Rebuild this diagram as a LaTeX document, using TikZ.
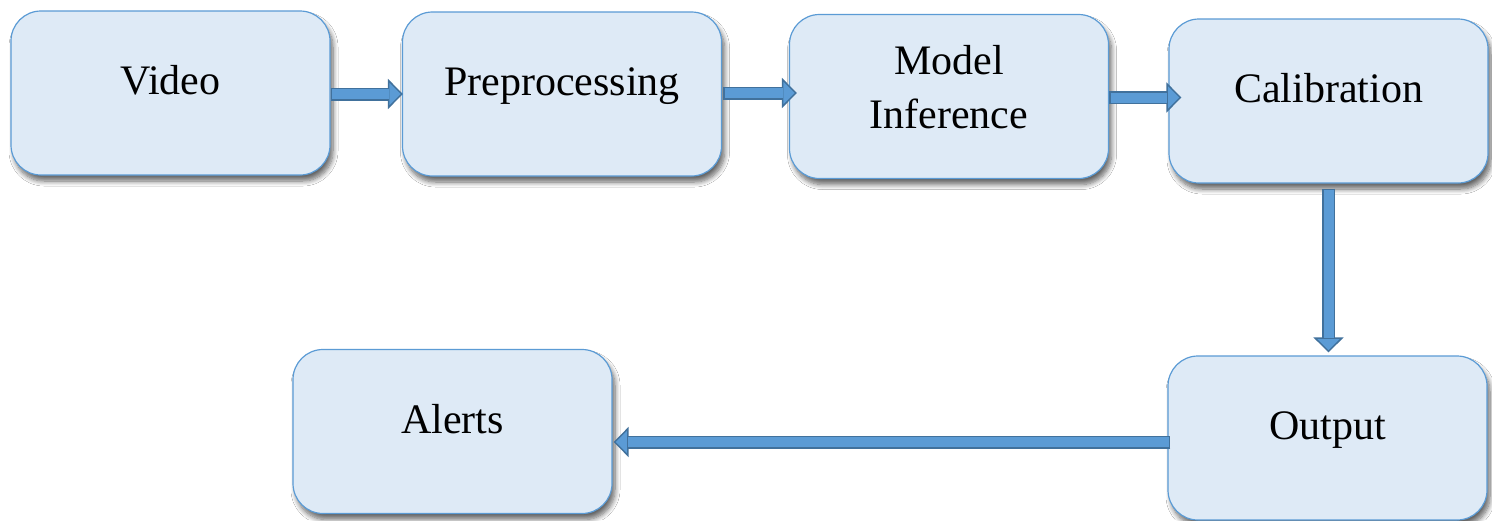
\documentclass[tikz,border=0pt]{standalone}
\usepackage{fontspec}
\setmainfont{Liberation Serif}
\usetikzlibrary{arrows.meta,calc,shadows.blur}
\definecolor{boxfill}{HTML}{DEEAF6}
\definecolor{boxedge}{HTML}{5B9BD5}
\definecolor{arrowfill}{HTML}{5B9BD5}
\definecolor{arrowedge}{HTML}{41719C}
\begin{document}
\begin{tikzpicture}[x=1pt,y=-1pt,
  stage/.style={draw=boxedge, line width=1.2pt, fill=boxfill,
    rounded corners=30pt, minimum width=319pt, minimum height=164pt,
    inner sep=0pt, font=\fontsize{42}{54}\selectfont,
    blur shadow={shadow xshift=3pt, shadow yshift=-6pt,
      shadow blur radius=5pt, shadow blur steps=8, shadow opacity=60}},
  oneline/.style={text height=29pt, text depth=26pt},
  flow/.style={draw=arrowedge, line width=13pt,
    -{Triangle[length=15pt, width=30pt, fill=arrowfill, line width=1.5pt]},
    postaction={draw=arrowfill, line width=10pt, -,
      shorten >=14pt, shorten <=1.5pt}}]
  % canvas
  \useasboundingbox (0,0) rectangle (1492,520);
  \fill[white] (0,0) rectangle (1492,520);

  % pipeline stages
  \node[stage, oneline] (video)  at (170.5,93)  {Video};
  \node[stage, oneline] (prep)   at (562,94)    {Preprocessing};
  \node[stage, align=center] (model) at (949,96.5)
    {Model\\Inference\rule[-20pt]{0pt}{20pt}};
  \node[stage, oneline] (calib)  at (1328.5,101) {Calibration};
  \node[stage, oneline] (output) at (1327.5,438) {Output};
  \node[stage, oneline] (alerts) at (452.5,431.5) {Alerts};

  % block arrows between stages
  \draw[flow] ($(video.east)+(0,1)$) -- ($(video.east -| prep.west)+(1,1)$);
  \draw[flow] ($(prep.east)+(1,-1)$) -- ($(prep.east -| model.west)+(8,-1)$);
  \draw[flow] ($(model.east)+(0,1)$) -- ($(model.east -| calib.west)+(13,1)$);
  \draw[flow] ($(calib.south)+(0,5)$) -- ($(output.north -| calib.south)+(0,-3)$);
  \draw[flow] ($(output.west)+(3,4)$) -- ($(output.west -| alerts.east)+(1,4)$);
\end{tikzpicture}
\end{document}
